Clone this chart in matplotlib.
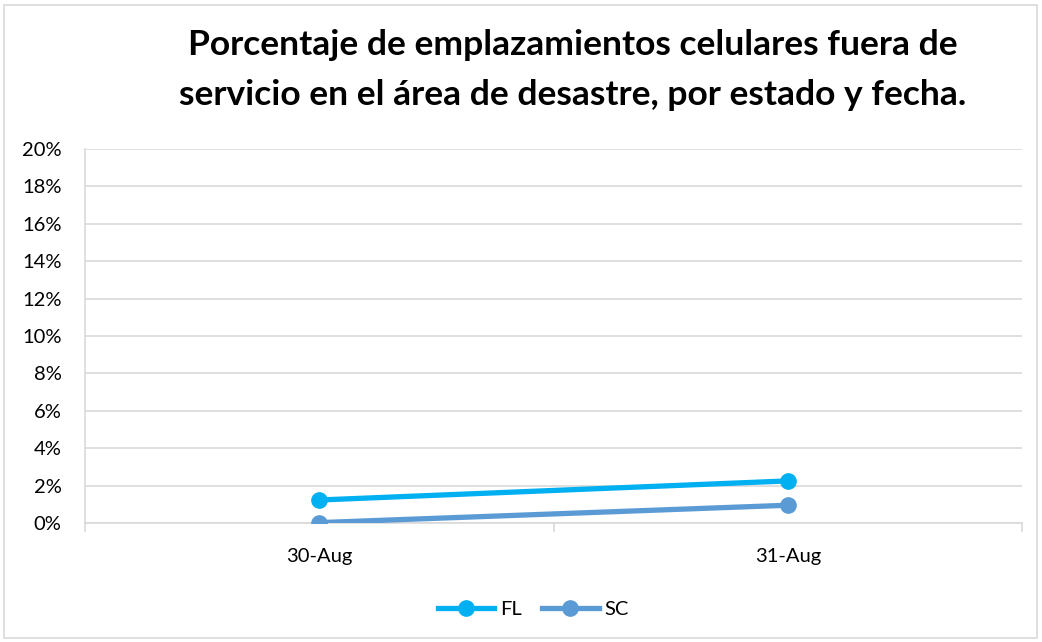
import matplotlib
matplotlib.use("Agg")
import matplotlib.pyplot as plt
from matplotlib.patches import Rectangle

categories = ["30-Aug", "31-Aug"]
fl = [1.23, 2.25]
sc = [0.02, 0.95]
yticks = [0, 2, 4, 6, 8, 10, 12, 14, 16, 18, 20]

plt.rcParams['font.family'] = ['Lato', 'DejaVu Sans']

fig = plt.figure(figsize=(10.42, 6.42), dpi=100)
fig.patches.append(Rectangle((4/1042, 4/642), 1 - 9/1042, 1 - 9/642, transform=fig.transFigure,
                             fill=False, edgecolor='#D9D9D9', linewidth=1.2))
ax = fig.add_axes([85/1042, (642-523)/642, (1022-85)/1042, (523-149)/642])

x = list(range(len(categories)))
ax.plot(x, fl, color='#00B0F0', linewidth=3.8, marker='o', markersize=11, label='FL', zorder=3)
ax.plot(x, sc, color='#5B9BD5', linewidth=3.8, marker='o', markersize=11, label='SC', zorder=3)

ax.set_xlim(-0.5, len(categories) - 0.5)
ax.set_ylim(0, 20)
ax.set_yticks(yticks)
ax.set_yticklabels([f"{v}%" for v in yticks], fontsize=14.5)
ax.set_xticks(x)
ax.set_xticklabels(categories, fontsize=14.5)
ax.tick_params(axis='x', length=0, pad=18)
ax.tick_params(axis='y', length=0, pad=17)
for b in [-0.5, 0.5, 1.5]:
    ax.plot([b, b], [0, -0.45], color='#D9D9D9', linewidth=1.2, clip_on=False)
ax.grid(axis='y', color='#D9D9D9', linewidth=1.2)
ax.set_axisbelow(True)
for s in ['top', 'right']:
    ax.spines[s].set_visible(False)
ax.spines['left'].set_color('#D9D9D9')
ax.spines['bottom'].set_color('#D9D9D9')
ax.spines['left'].set_linewidth(1.2)
ax.spines['bottom'].set_linewidth(1.2)

fig.text(0.550, 0.891, "Porcentaje de emplazamientos celulares fuera de\nservicio en el área de desastre, por estado y fecha.",
         ha='center', va='center', fontsize=25.5, fontweight='bold', linespacing=1.7)

fig.legend(loc='center', bbox_to_anchor=(0.512, 0.05), ncol=2, frameon=False, fontsize=14.5,
           handlelength=2.8, columnspacing=1.0, handletextpad=0.3)

fig.savefig("out.png", dpi=100)
